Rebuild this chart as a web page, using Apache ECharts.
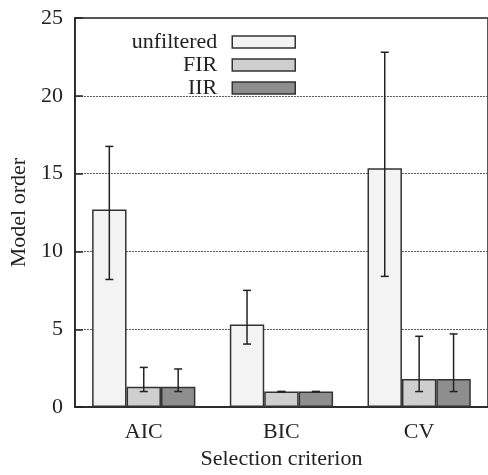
<!DOCTYPE html>
<html>
<head>
<meta charset="utf-8">
<script src="https://cdn.jsdelivr.net/npm/echarts@6/dist/echarts.min.js"></script>
<style>
  html, body { margin: 0; padding: 0; background: #fff; }
  #main { width: 488px; height: 475px; }
</style>
</head>
<body>
<div id="main"></div>
<script>
// data
var categories = ['AIC', 'BIC', 'CV'];
var seriesNames = ['unfiltered', 'FIR', 'IIR'];
var unfiltered = [12.7, 5.3, 15.35];
var fir = [1.3, 1.0, 1.8];
var iir = [1.3, 1.0, 1.8];
// error bar ends (low / high)
var unfilteredLow = [8.2, 4.05, 8.4];
var unfilteredHigh = [16.75, 7.5, 22.8];
var firLow = [1.0, 1.0, 1.0];
var firHigh = [2.55, 1.0, 4.55];
var iirLow = [1.0, 1.0, 1.0];
var iirHigh = [2.45, 1.0, 4.7];
var yTicks = [0, 5, 10, 15, 20, 25];

var colors = ['#f3f3f3', '#cfcfcf', '#8e8e8e'];
var font = 'Liberation Serif';
var ink = '#222';

var lows = [unfilteredLow, firLow, iirLow];
var highs = [unfilteredHigh, firHigh, iirHigh];
var errData = [];
for (var s = 0; s < 3; s++) {
    for (var c = 0; c < categories.length; c++) {
        errData.push([c, lows[s][c], highs[s][c], s]);
    }
}

function barSeries(name, data, i) {
    return {
        name: name,
        type: 'bar',
        data: data,
        barGap: '0%',
        barCategoryGap: '25%',
        itemStyle: { color: colors[i], borderColor: '#333', borderWidth: 1.5 },
        z: 2
    };
}

var option = {
    animation: false,
    grid: {
        left: 72, top: 18, bottom: 60, width: 420,
        show: true, borderColor: ink, borderWidth: 1.5
    },
    legend: {
        data: seriesNames,
        orient: 'vertical',
        align: 'right',
        right: 187,
        top: 26,
        itemWidth: 63,
        itemHeight: 12,
        itemGap: 1,
        icon: 'rect',
        itemStyle: { borderColor: '#333', borderWidth: 1.5 },
        textStyle: { fontFamily: font, fontSize: 22, color: ink, lineHeight: 22, padding: [0, 10, 0, 0] }
    },
    xAxis: {
        type: 'category',
        data: categories,
        name: 'Selection criterion',
        nameLocation: 'middle',
        nameGap: 38,
        nameTextStyle: { fontFamily: font, fontSize: 22, color: ink },
        axisLine: { lineStyle: { color: ink, width: 1.5 } },
        axisTick: { show: false },
        axisLabel: { fontFamily: font, fontSize: 22, color: ink, margin: 14 }
    },
    yAxis: {
        type: 'value',
        min: yTicks[0],
        max: yTicks[yTicks.length - 1],
        interval: 5,
        name: 'Model order',
        nameLocation: 'middle',
        nameGap: 44,
        nameTextStyle: { fontFamily: font, fontSize: 22, color: ink },
        axisLine: { show: true, lineStyle: { color: ink, width: 1.5 } },
        axisTick: { show: true, inside: true, length: 8, lineStyle: { color: ink, width: 1.5 } },
        axisLabel: { fontFamily: font, fontSize: 22, color: ink, margin: 12 },
        splitLine: { lineStyle: { color: '#555', width: 1, type: [2, 1] } }
    },
    series: [
        barSeries(seriesNames[0], unfiltered, 0),
        barSeries(seriesNames[1], fir, 1),
        barSeries(seriesNames[2], iir, 2),
        {
            name: 'err',
            type: 'custom',
            data: errData,
            encode: { x: 0, y: [1, 2] },
            z: 5,
            renderItem: function (params, api) {
                var ci = api.value(0);
                var bandW = api.size([1, 0])[0];
                var barW = bandW * 0.75 / 3;
                var lo = api.coord([ci, api.value(1)]);
                var hi = api.coord([ci, api.value(2)]);
                var x = lo[0] + (api.value(3) - 1) * barW;
                var cap = 4;
                var st = { stroke: ink, lineWidth: 1.5 };
                return {
                    type: 'group',
                    children: [
                        { type: 'line', shape: { x1: x, y1: lo[1], x2: x, y2: hi[1] }, style: st },
                        { type: 'line', shape: { x1: x - cap, y1: lo[1], x2: x + cap, y2: lo[1] }, style: st },
                        { type: 'line', shape: { x1: x - cap, y1: hi[1], x2: x + cap, y2: hi[1] }, style: st }
                    ]
                };
            }
        }
    ]
};

echarts.init(document.getElementById('main')).setOption(option);
</script>
</body>
</html>
